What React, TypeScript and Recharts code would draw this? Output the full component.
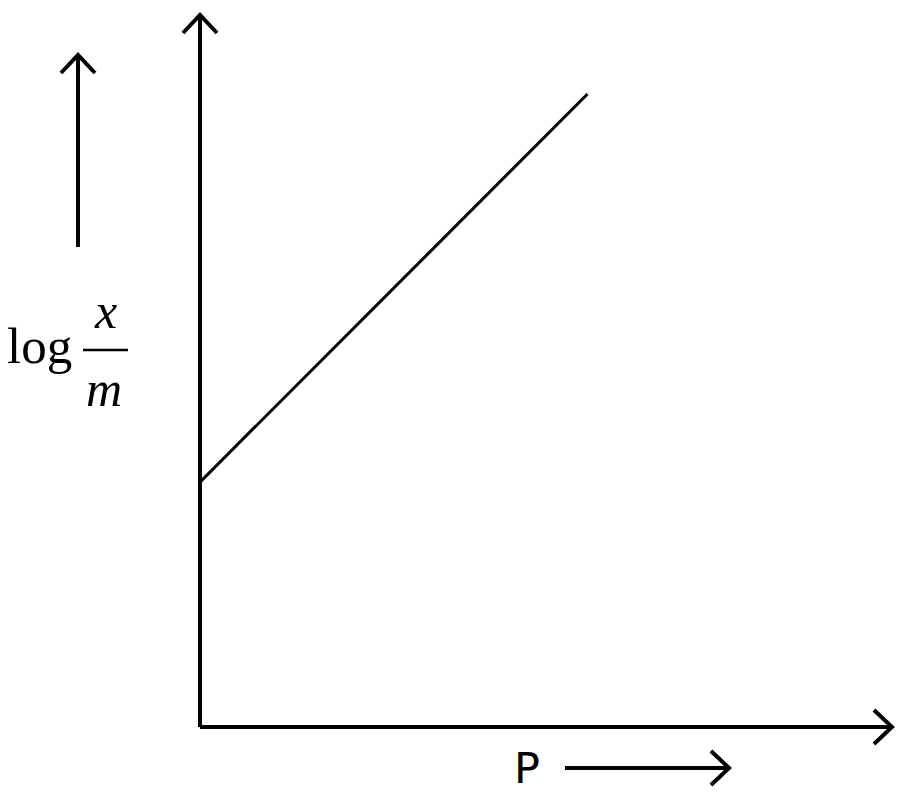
import { LineChart, Line, XAxis, YAxis } from 'recharts';

// pressure (x) and log(x/m) (y) at the two ends of the drawn straight line
const pressure = [0, 5.6];
const logXm = [3.44, 8.89];

const xDomain = [0, 10];
const yDomain = [0, 10];

const data = pressure.map((p, i) => ({ p, v: logXm[i] }));

export default function App() {
    return (
        <div style={{ position: 'absolute', left: 0, top: 0, width: 900, height: 794, background: '#fff' }}>
            <svg width={0} height={0} style={{ position: 'absolute' }}>
                <defs>
                    <marker
                        id="arrowHead"
                        viewBox="0 0 24 40"
                        refX={21}
                        refY={20}
                        markerWidth={24}
                        markerHeight={40}
                        markerUnits="userSpaceOnUse"
                        orient="auto-start-reverse"
                    >
                        <path d="M3,3 L21,20 L3,37" fill="none" stroke="#000" strokeWidth={4} />
                    </marker>
                </defs>
            </svg>
            <LineChart
                width={900}
                height={794}
                data={data}
                margin={{ top: 15, right: 8, bottom: 66, left: 199 }}
            >
                <XAxis
                    dataKey="p"
                    type="number"
                    domain={xDomain}
                    height={1}
                    tick={false}
                    tickLine={false}
                    axisLine={{ stroke: '#000', strokeWidth: 4, markerEnd: 'url(#arrowHead)' }}
                />
                <YAxis
                    type="number"
                    domain={yDomain}
                    width={1}
                    tick={false}
                    tickLine={false}
                    axisLine={{ stroke: '#000', strokeWidth: 4, markerStart: 'url(#arrowHead)' }}
                />
                <Line
                    type="linear"
                    dataKey="v"
                    stroke="#000"
                    strokeWidth={3}
                    dot={false}
                    isAnimationActive={false}
                />
            </LineChart>
            <svg
                width={900}
                height={794}
                style={{ position: 'absolute', left: 0, top: 0, pointerEvents: 'none' }}
            >
                {/* y label */}
                <line x1={78} y1={247} x2={78} y2={55} stroke="#000" strokeWidth={4} markerEnd="url(#arrowHead)" />
                <text x={7} y={363} fontFamily="Liberation Serif" fontSize={51}>log</text>
                <text x={106} y={328} fontFamily="Liberation Serif" fontStyle="italic" fontSize={50} textAnchor="middle">x</text>
                <line x1={83} y1={350} x2={128} y2={350} stroke="#000" strokeWidth={2.5} />
                <text x={104} y={406} fontFamily="Liberation Serif" fontStyle="italic" fontSize={50} textAnchor="middle">m</text>
                {/* x label */}
                <text x={514} y={783} fontFamily="DejaVu Sans" fontSize={43}>P</text>
                <line x1={565} y1={768} x2={729} y2={768} stroke="#000" strokeWidth={4} markerEnd="url(#arrowHead)" />
            </svg>
        </div>
    );
}
